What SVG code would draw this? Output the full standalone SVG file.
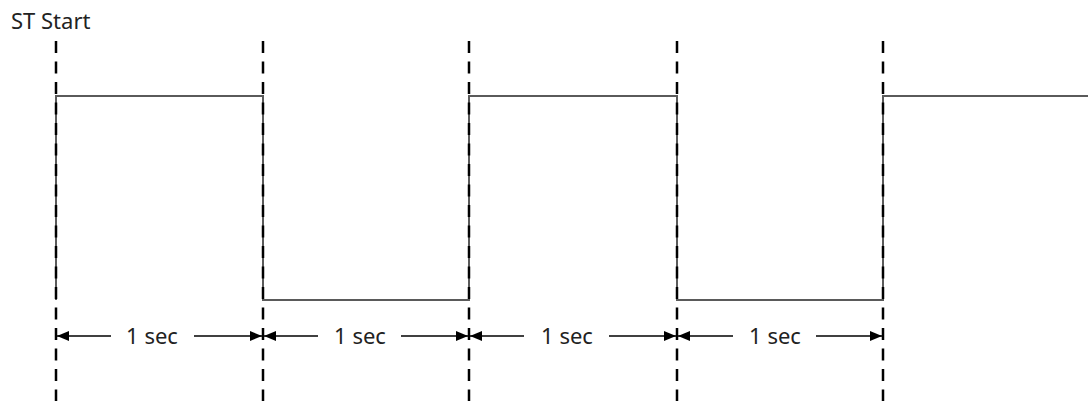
<svg xmlns="http://www.w3.org/2000/svg" width="1088" height="408" viewBox="0 0 1088 408">
  <style>
    .wave { fill: none; stroke: #5a5a5a; stroke-width: 2; }
    .mark { stroke: #000; stroke-width: 2.5; stroke-dasharray: 12 8.5; }
    .dim { stroke: #000; stroke-width: 1.3; marker-end: url(#arrow); }
    .label { font-family: "Noto Sans", "Open Sans", sans-serif; font-size: 22px; fill: #222; }
  </style>
  <defs>
    <marker id="arrow" viewBox="0 0 12 10" refX="12" refY="5" markerWidth="12" markerHeight="10" markerUnits="userSpaceOnUse" orient="auto">
      <path d="M0,0 L12,5 L0,10 z" fill="#000"/>
    </marker>
  </defs>
  <rect width="1088" height="408" fill="#fff"/>

  <text id="title" class="label" x="11" y="29">ST Start</text>

  <!-- square wave signal -->
  <g id="signal">
    <path class="wave" d="M56,300 V96 H263 V300 H469 V96 H677 V300 H883 V96 H1088"/>
  </g>

  <!-- timing marks -->
  <g id="marks">
    <line class="mark" x1="56" y1="41" x2="56" y2="401"/>
    <line class="mark" x1="263" y1="41" x2="263" y2="401"/>
    <line class="mark" x1="469" y1="41" x2="469" y2="401"/>
    <line class="mark" x1="677" y1="41" x2="677" y2="401"/>
    <line class="mark" x1="883" y1="41" x2="883" y2="401"/>
  </g>

  <!-- interval dimensions -->
  <g id="connectors">
    <line class="dim" x1="111" y1="336" x2="57" y2="336"/>
    <line class="dim" x1="194" y1="336" x2="262" y2="336"/>
    <line class="dim" x1="318" y1="336" x2="264" y2="336"/>
    <line class="dim" x1="401" y1="336" x2="468" y2="336"/>
    <line class="dim" x1="524" y1="336" x2="470" y2="336"/>
    <line class="dim" x1="609" y1="336" x2="676" y2="336"/>
    <line class="dim" x1="733" y1="336" x2="678" y2="336"/>
    <line class="dim" x1="816" y1="336" x2="882" y2="336"/>
  </g>

  <g id="interval-1"><text class="label" x="152" y="344" text-anchor="middle">1 sec</text></g>
  <g id="interval-2"><text class="label" x="360" y="344" text-anchor="middle">1 sec</text></g>
  <g id="interval-3"><text class="label" x="567" y="344" text-anchor="middle">1 sec</text></g>
  <g id="interval-4"><text class="label" x="775" y="344" text-anchor="middle">1 sec</text></g>
</svg>
